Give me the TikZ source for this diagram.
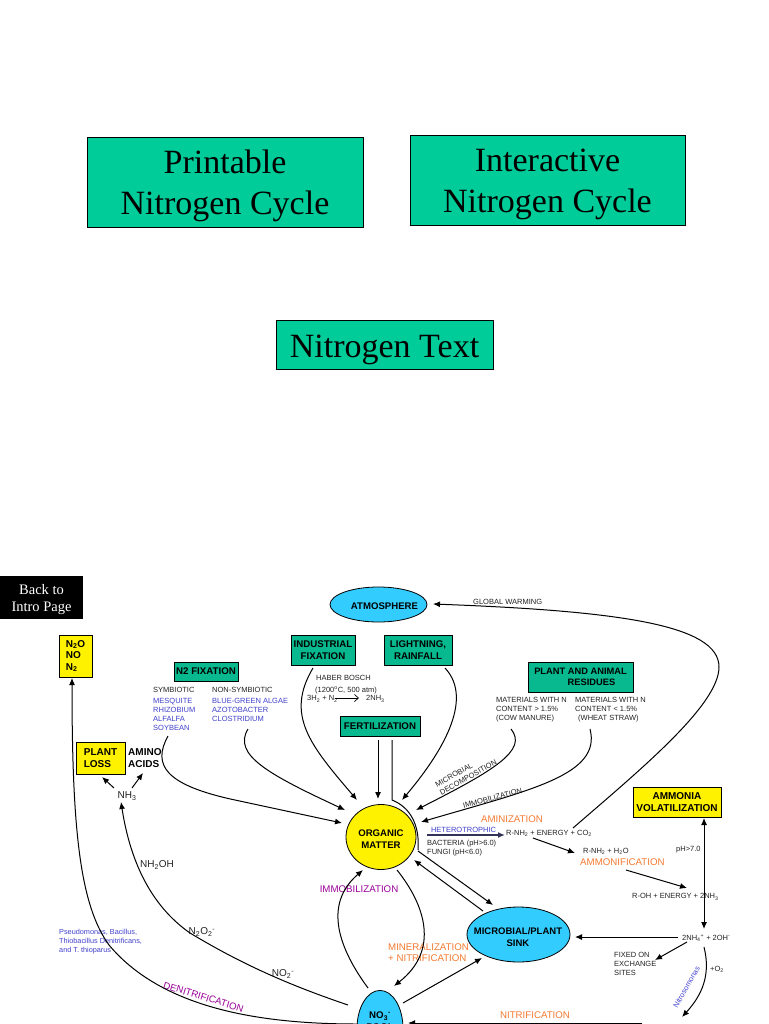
\documentclass[tikz,border=0pt]{standalone}
\usepackage{fontspec}
\setmainfont{Liberation Sans}
\newfontfamily\serifface{Liberation Serif}
\usetikzlibrary{arrows.meta,shapes.geometric}
\definecolor{teal1}{HTML}{00CC99}
\definecolor{teal2}{HTML}{08B88E}
\definecolor{sky1}{HTML}{33CCFF}
\definecolor{blue1}{HTML}{4040CC}
\definecolor{orange1}{HTML}{F47A30}
\definecolor{purple1}{HTML}{990099}
\definecolor{gray1}{HTML}{222222}
\definecolor{het1}{HTML}{33335A}
\newcommand{\dn}[1]{\textsubscript{#1}}
\newcommand{\up}[1]{\textsuperscript{#1}}
\tikzset{
 bigbtn/.style={draw=black,line width=0.7pt,fill=teal1,inner sep=0pt},
 bigtxt/.style={inner sep=0pt,align=center,font=\serifface\fontsize{34}{41}\selectfont},
 tbox/.style={draw=black,line width=0.8pt,fill=teal2,inner sep=0pt,align=center,font=\bfseries\fontsize{9.7}{11.5}\selectfont},
 ybox/.style={draw=black,line width=0.8pt,fill=yellow,inner sep=0pt,align=center,font=\bfseries\fontsize{10}{11.5}\selectfont},
 oval/.style={draw=black,line width=0.8pt,fill=sky1,ellipse,inner sep=0pt},
 ovaltxt/.style={inner sep=0pt,align=center,font=\bfseries\fontsize{9.6}{12}\selectfont},
 txt/.style={inner sep=0pt,anchor=west,align=left,text=gray1,font=\fontsize{7.5}{9}\selectfont},
 btxt/.style={txt,text=blue1},
 otxt/.style={inner sep=0pt,anchor=west,align=left,text=orange1,font=\fontsize{9.7}{11}\selectfont},
 ptxt/.style={inner sep=0pt,text=purple1,font=\fontsize{9.7}{11}\selectfont},
 ctxt/.style={inner sep=0pt,text=gray1,font=\fontsize{10}{11}\selectfont},
 conn/.style={line width=1pt,-{Latex[length=7pt,width=6pt]}},
 plainline/.style={line width=1pt},
}
\begin{document}
\begin{tikzpicture}[x=1pt,y=-1pt]
\useasboundingbox (0,0) rectangle (768,1024);
\clip (0,0) rectangle (768,1024);
% big buttons
\node[bigbtn,minimum width=276pt,minimum height=90pt] (print) at (225,182) {};
\node[bigtxt,yshift=-4pt] (printT) at (print.center) {Printable\\Nitrogen Cycle};
\node[bigbtn,minimum width=275pt,minimum height=90pt] (inter) at (547.5,180) {};
\node[bigtxt,yshift=-4pt] (interT) at (inter.center) {Interactive\\Nitrogen Cycle};
\node[bigbtn,minimum width=217pt,minimum height=49pt] (ntext) at (384.5,344.5) {};
\node[bigtxt,yshift=-5pt] (ntextT) at (ntext.center) {Nitrogen Text};
\node[fill=black,minimum width=83pt,minimum height=43pt,inner sep=0pt] (back) at (41.5,597.5) {};
\node[text=white,inner sep=0pt,align=center,yshift=-2pt,font=\serifface\fontsize{14.5}{17}\selectfont] (backT) at (back.center) {Back to\\Intro Page};
% boxes
\node[ybox,minimum width=33pt,minimum height=42pt,align=left] (gases) at (75.5,656) {N\dn{2}O\\NO\\N\dn{2}};
\node[tbox,minimum width=64pt,minimum height=19pt] (nfix) at (206,671.5) {N2 FIXATION};
\node[tbox,minimum width=64pt,minimum height=30pt] (indus) at (323,650) {INDUSTRIAL\\FIXATION};
\node[tbox,minimum width=68pt,minimum height=30pt] (light) at (418,650) {LIGHTNING,\\RAINFALL};
\node[tbox,minimum width=80pt,minimum height=20pt] (fert) at (380,726.5) {FERTILIZATION};
\node[tbox,minimum width=105pt,minimum height=30pt,font=\bfseries\fontsize{9.3}{11.5}\selectfont] (resid) at (580.5,677) {PLANT AND ANIMAL\\\hspace*{22pt}RESIDUES};
\node[ybox,minimum width=49pt,minimum height=32pt,align=left] (loss) at (100.5,758) {PLANT\\LOSS};
\node[ybox,minimum width=88pt,minimum height=30pt] (volat) at (677,802) {AMMONIA\\VOLATILIZATION};
\node[oval,minimum width=97pt,minimum height=35pt] (atm) at (378.5,604.5) {};
\node[ovaltxt] (atmT) at (384.5,606) {ATMOSPHERE};
\node[oval,fill=yellow,minimum width=70pt,minimum height=65pt] (om) at (381,837) {};
\node[ovaltxt] (omT) at (381,839) {ORGANIC\\MATTER};
\node[oval,minimum width=103pt,minimum height=55pt] (sink) at (518.5,934.5) {};
\node[ovaltxt,font=\bfseries\fontsize{9.5}{12}\selectfont] (sinkT) at (518,937) {MICROBIAL/PLANT\\SINK};
\node[oval,minimum width=46pt,minimum height=76pt,anchor=north] (pool) at (380,990) {};
\node[inner sep=0pt,align=center,font=\bfseries\fontsize{9.7}{11.5}\selectfont] (pooltxt) at (380,1021) {NO\dn{3}\up{-}\\POOL};
% plain text
\node[inner sep=0pt,anchor=west,align=left,font=\bfseries\fontsize{10}{11.5}\selectfont] (amino) at (128,758) {AMINO\\ACIDS};
\node[txt] (gw) at (473,602) {GLOBAL WARMING};
\node[txt] (haber) at (316,678) {HABER BOSCH};
\node[txt] (temp) at (315,690) {(1200\up{o}C, 500 atm)};
\node[txt] (react) at (307,699) {3H\dn{2} + N\dn{2}};
\node[txt] (prod) at (366,699) {2NH\dn{3}};
\node[txt] (symb) at (153,690) {SYMBIOTIC};
\node[btxt,anchor=north west] (symbl) at (153,698) {MESQUITE\\RHIZOBIUM\\ALFALFA\\SOYBEAN};
\node[txt] (nsymb) at (212,690) {NON-SYMBIOTIC};
\node[btxt,anchor=north west] (nsymbl) at (212,698) {BLUE-GREEN ALGAE\\AZOTOBACTER\\CLOSTRIDIUM};
\node[txt,anchor=north west] (mat1) at (496,697) {MATERIALS WITH N\\CONTENT > 1.5\%\\(COW MANURE)};
\node[txt,anchor=north west] (mat2) at (575,697) {MATERIALS WITH N\\CONTENT < 1.5\%\\\hspace*{3pt}(WHEAT STRAW)};
\node[txt,anchor=center,rotate=29] (mdec) at (466,773.5) {MICROBIAL\\DECOMPOSITION};
\node[txt,anchor=center,rotate=15] (immo2) at (492.5,798) {IMMOBILIZATION};
\node[otxt,anchor=center] (amin) at (512,819) {AMINIZATION};
\node[btxt,anchor=center] (het) at (463.5,830) {HETEROTROPHIC};
\node[txt] (bact) at (427,844) {BACTERIA (pH>6.0)};
\node[txt] (fungi) at (427,853) {FUNGI (pH<6.0)};
\node[txt] (rnh) at (506,833) {R-NH\dn{2} + ENERGY + CO\dn{2}};
\node[txt] (rnh2) at (583,851) {R-NH\dn{2} + H\dn{2}O};
\node[otxt] (ammon) at (580,862) {AMMONIFICATION};
\node[txt] (ph) at (676,850) {pH>7.0};
\node[txt] (roh) at (632,897) {R-OH + ENERGY + 2NH\dn{3}};
\node[txt] (nh4) at (682,938) {2NH\dn{4}\up{+} + 2OH\up{-}};
\node[txt,anchor=north west] (fixed) at (614,952) {FIXED ON\\EXCHANGE\\SITES};
\node[txt] (o2) at (710,969) {+O\dn{2}};
\node[btxt,anchor=center,rotate=60,font=\fontsize{7.4}{9}\selectfont] (nitroso) at (686.5,987) {Nitrosomonas};
\node[ptxt] (immo1) at (359,889) {IMMOBILIZATION};
\node[otxt,anchor=north west,font=\fontsize{9.7}{11}\selectfont] (miner) at (388,944) {MINERALIZATION\\+ NITRIFICATION};
\node[otxt,anchor=center] (nitr) at (535,1015) {NITRIFICATION};
\node[ctxt] (nh3) at (127,796) {NH\dn{3}};
\node[ctxt] (nh2oh) at (157,865) {NH\dn{2}OH};
\node[ctxt] (n2o2) at (202,932) {N\dn{2}O\dn{2}\up{-}};
\node[ctxt] (no2) at (283,974) {NO\dn{2}\up{-}};
\node[btxt,anchor=north west,font=\fontsize{7.3}{9}\selectfont] (pseudo) at (59,929) {Pseudomonas, Bacillus,\\Thiobacillus Denitrificans,\\and T. thioparus};
\node[ptxt,rotate=-17] (denit) at (203.5,997) {DENITRIFICATION};
% connector ends
\coordinate (gwS) at (573,828); \coordinate (gwM) at (719,667); \coordinate (gwE) at (433,604);
\coordinate (symS) at (168,736); \coordinate (symE) at (342,823);
\coordinate (nsyS) at (248,729); \coordinate (nsyE) at (345,810);
\coordinate (indS) at (313,668); \coordinate (indE) at (357,800);
\coordinate (ligS) at (445,668); \coordinate (ligE) at (402,800);
\coordinate (ferS) at (378,740); \coordinate (ferE) at (378,799);
\coordinate (fe2S) at (392,740); \coordinate (fe2M) at (392,800); \coordinate (fe2E) at (418,850);
\coordinate (micS) at (511,729); \coordinate (micE) at (416,810);
\coordinate (immS) at (590,729); \coordinate (immE) at (421,822);
\coordinate (hetS) at (427,835); \coordinate (hetE) at (505,835);
\coordinate (rxS) at (335,698); \coordinate (rxE) at (359,698);
\coordinate (a1S) at (533,838); \coordinate (a1E) at (575,853);
\coordinate (a2S) at (626,870); \coordinate (a2E) at (687,888);
\coordinate (v1) at (704,818); \coordinate (v2) at (704,929);
\coordinate (s1S) at (678,937); \coordinate (s1E) at (575,937);
\coordinate (f1S) at (687,942); \coordinate (f1E) at (655,960);
\coordinate (n1S) at (704,947); \coordinate (n1E) at (682,1017);
\coordinate (nrS) at (642,1023); \coordinate (nrE) at (408,1023);
\coordinate (l1S) at (114,788); \coordinate (l1E) at (102,777);
\coordinate (l2S) at (132,788); \coordinate (l2E) at (143,773);
\coordinate (deS) at (358,1024); \coordinate (deM) at (109,945); \coordinate (deE) at (72,678);
\coordinate (noS) at (348,1005); \coordinate (noM) at (190,933); \coordinate (noE) at (121,802);
\coordinate (imS) at (368,988); \coordinate (imE) at (363,870);
\coordinate (miS) at (397,870); \coordinate (miE) at (394,986);
\coordinate (psS) at (403,1003); \coordinate (psE) at (482,958);
\coordinate (smS) at (483,911); \coordinate (smE) at (414,860);
\coordinate (osS) at (418,851); \coordinate (osE) at (493,905);
% connectors
\draw[conn] (gwS) .. controls (640,770) and (719,705) .. (gwM) .. controls (719,625) and (620,611) .. (gwE);
\draw[conn] (symS) .. controls (152,765) and (165,785) .. (235,800) -- (symE);
\draw[conn] (nsyS) .. controls (232,755) and (270,775) .. (nsyE);
\draw[conn] (indS) .. controls (285,715) and (310,745) .. (indE);
\draw[conn] (ligS) .. controls (475,700) and (440,755) .. (ligE);
\draw[conn] (ferS) -- (ferE);
\draw[plainline] (fe2S) -- (fe2M) .. controls (410,807) and (420,825) .. (fe2E);
\draw[conn] (micS) .. controls (528,750) and (495,770) .. (micE);
\draw[conn] (immS) .. controls (602,775) and (530,790) .. (immE);
\draw[conn,line width=1.5pt,het1] (hetS) -- (hetE);
\draw[line width=0.7pt,-{Straight Barb[length=4pt,width=7pt]}] (rxS) -- (rxE);
\draw[conn] (a1S) -- (a1E);
\draw[conn] (a2S) -- (a2E);
\draw[conn,{Latex[length=7pt,width=6pt]}-{Latex[length=7pt,width=6pt]}] (v1) -- (v2);
\draw[conn] (s1S) -- (s1E);
\draw[conn] (f1S) -- (f1E);
\draw[conn] (n1S) .. controls (711,975) and (702,995) .. (n1E);
\draw[conn] (nrS) -- (nrE);
\draw[conn] (l1S) -- (l1E);
\draw[conn] (l2S) -- (l2E);
\draw[conn] (deS) .. controls (270,1024) and (165,1012) .. (deM) .. controls (80,905) and (72,830) .. (deE);
\draw[conn] (noS) .. controls (280,982) and (235,960) .. (noM) .. controls (150,905) and (130,860) .. (noE);
\draw[conn] (imS) .. controls (340,950) and (322,905) .. (imE);
\draw[conn] (miS) .. controls (425,905) and (440,950) .. (miE);
\draw[conn] (psS) -- (psE);
\draw[conn] (smS) -- (smE);
\draw[conn] (osS) -- (osE);
\end{tikzpicture}
\end{document}
